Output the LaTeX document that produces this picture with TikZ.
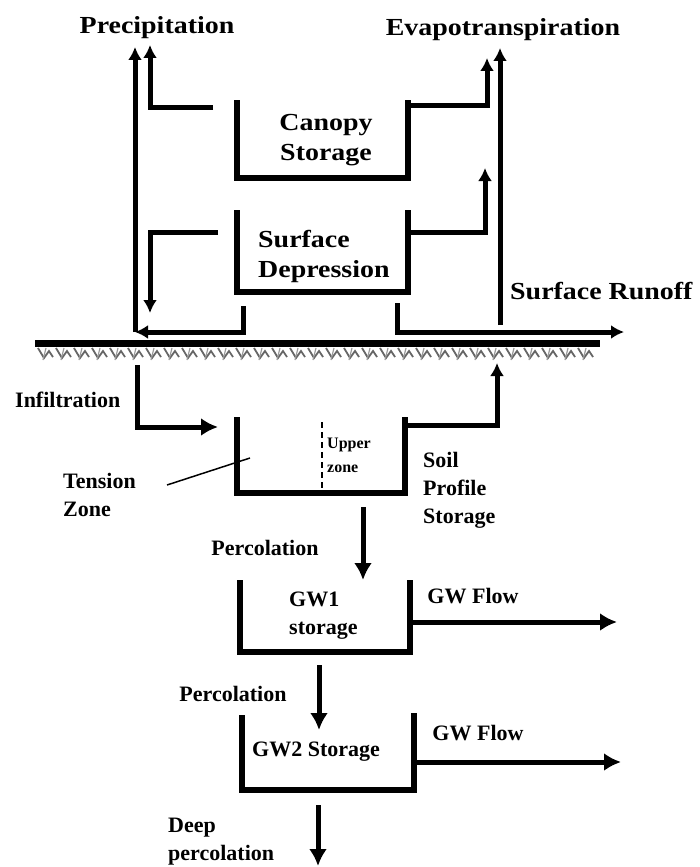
\documentclass[tikz,border=0pt]{standalone}
\usepackage{fontspec}
\setmainfont{Liberation Serif}
\newfontfamily\widefont[FakeStretch=1.14]{Liberation Serif}
\usetikzlibrary{arrows.meta}

\begin{document}
\begin{tikzpicture}[
  x=1pt,y=-1pt,
  >={Latex[length=17pt,width=18pt]},
  wall/.style={line width=5.5pt,line join=miter},
  flow/.style={->,line width=5pt,line join=miter},
  thin flow/.style={-{Latex[length=13pt,width=14pt]},line width=5pt,line join=miter},
  big/.style={inner sep=0pt,align=center,font=\widefont\bfseries\fontsize{24.5}{30}\selectfont},
  lbl/.style={inner sep=0pt,align=left,font=\bfseries\fontsize{22}{28}\selectfont},
  tiny/.style={inner sep=0pt,align=left,font=\bfseries\fontsize{16}{24}\selectfont}
]
\useasboundingbox (0,0) rectangle (699,867);

% labels above ground
\node[big] (prec) at (157,28) {Precipitation};
\node[big] (evap) at (503,30) {Evapotranspiration};
\node[big,anchor=west] (runoff) at (510,291) {Surface Runoff};
\node[big] (canopy) at (326,140) {Canopy\\Storage};
\node[big,align=left,anchor=west] (depr) at (258,256) {Surface\\Depression};

% storages
\draw[wall] (237,100) -- (237,178) -- (408,178) -- (408,100);
\draw[wall] (237,210) -- (237,292) -- (408,292) -- (408,210);
\draw[wall] (237,417) -- (237,493) -- (405,493) -- (405,417);
\draw[wall] (240,580) -- (240,652) -- (410,652) -- (410,580);
\draw[wall] (242,715) -- (242,790) -- (414,790) -- (414,713);
\draw[line width=1.2pt,dash pattern=on 6pt off 4pt] (322,422) -- (322,493);

% ground
\draw[line width=7pt] (35,343) -- (600,343);
\foreach \gx in {38,56,...,584}{
  \draw[black!60,line width=1.8pt] (\gx,348) -- ++(6,10) -- ++(5,-7) -- ++(4,6);
  \draw[black!40,line width=1.2pt] (\gx+8,348) -- ++(-3,12);
}

% connector ends
\coordinate (cpyL) at (213,107);   \coordinate (precA) at (150,45);
\coordinate (gndL) at (135,332);   \coordinate (precB) at (135,47);
\coordinate (depL) at (218,232);   \coordinate (gndD) at (150,313);
\coordinate (depB) at (243,306);
\coordinate (cpyR) at (408,105);   \coordinate (evapA) at (487,58);
\coordinate (gndR) at (500,325);   \coordinate (evapB) at (500,48);
\coordinate (depR) at (408,232);   \coordinate (evapC) at (485,168);
\coordinate (depC) at (397,303);   \coordinate (roEnd) at (624,332);
\coordinate (infA) at (137,365);   \coordinate (soilIn) at (218,427);
\coordinate (soilR) at (405,425);  \coordinate (gndU) at (497,363);
\coordinate (soilB) at (363,507);  \coordinate (gw1In) at (363,580);
\coordinate (gw1R) at (410,622);   \coordinate (gw1Out) at (617,622);
\coordinate (gw1B) at (319,665);   \coordinate (gw2In) at (319,730);
\coordinate (gw2R) at (414,762);   \coordinate (gw2Out) at (621,762);
\coordinate (gw2B) at (318,805);   \coordinate (deepEnd) at (318,866);

\draw[thin flow] (cpyL) -| (precA);
\draw[thin flow] (gndL) -- (precB);
\draw[thin flow] (depL) -| (gndD);
\draw[thin flow] (depB) |- (gndL);
\draw[thin flow] (cpyR) -| (evapA);
\draw[thin flow] (gndR) -- (evapB);
\draw[thin flow] (depR) -| (evapC);
\draw[thin flow] (depC) |- (roEnd);
\draw[flow] (infA) |- (soilIn);
\draw[thin flow] (soilR) -| (gndU);
\draw[flow] (soilB) -- (gw1In);
\draw[flow] (gw1R) -- (gw1Out);
\draw[flow] (gw1B) -- (gw2In);
\draw[flow] (gw2R) -- (gw2Out);
\draw[flow] (gw2B) -- (deepEnd);

% labels below ground
\node[lbl,anchor=west] (infil) at (15,400) {Infiltration};
\node[lbl,anchor=west] (tension) at (63,495) {Tension\\Zone};
\draw[line width=1.5pt] (167,485) -- (250,458);
\node[tiny,anchor=west] (upper) at (327,455) {Upper\\zone};
\node[lbl,anchor=west] (soil) at (423,490) {Soil\\Profile\\Storage};
\node[lbl] (perc1) at (265,548) {Percolation};
\node[lbl,anchor=west] (gw1) at (289,616) {GW1\\storage};
\node[lbl] (gwf1) at (473,596) {GW Flow};
\node[lbl] (perc2) at (233,694) {Percolation};
\node[lbl] (gw2) at (316,752) {GW2 Storage};
\node[lbl] (gwf2) at (478,733) {GW Flow};
\node[lbl,anchor=west] (deep) at (168,842) {Deep\\percolation};
\end{tikzpicture}
\end{document}
